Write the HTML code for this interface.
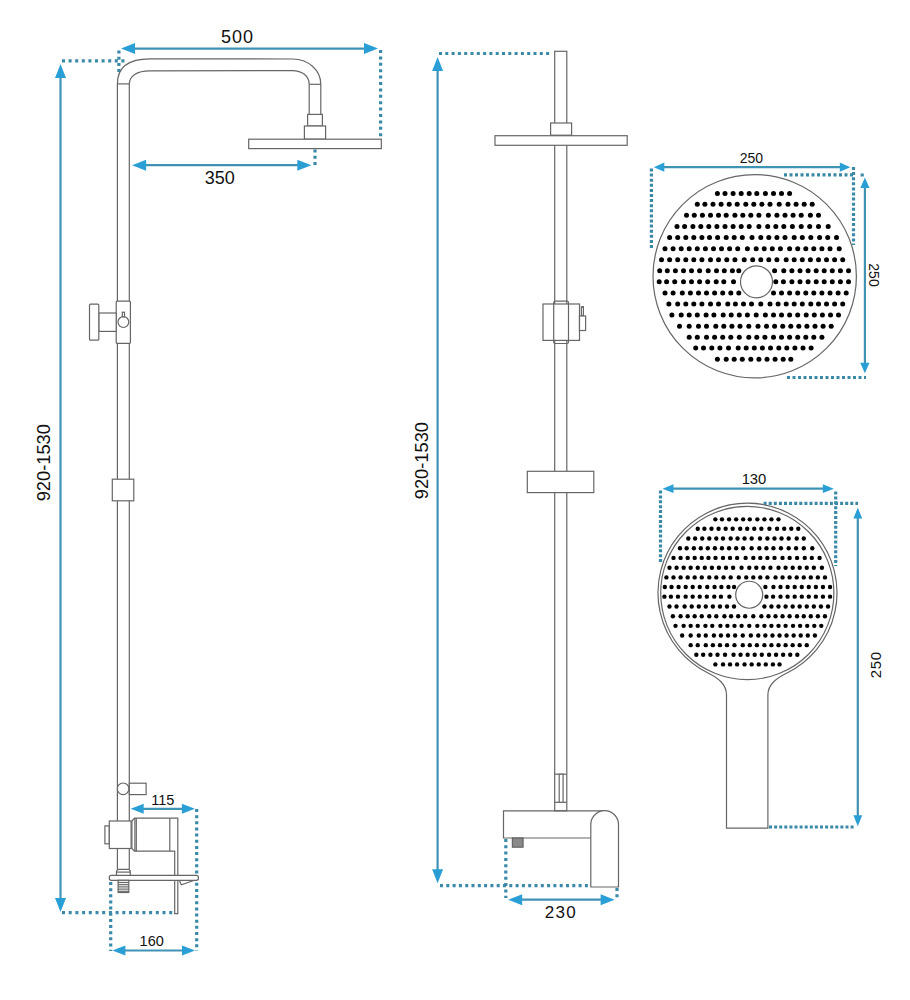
<!DOCTYPE html>
<html><head><meta charset="utf-8"><style>
html,body{margin:0;padding:0;background:#fff;width:910px;height:1000px;overflow:hidden}
svg{display:block}
.ln{fill:#fff;stroke:#666;stroke-width:1.2}
line.ln{fill:none}
.ar{stroke:#4193b5;stroke-width:2.2;fill:none}
.ah{fill:#2a9fd6;stroke:none}
.dt{stroke:#3a89a8;stroke-width:3.2;stroke-dasharray:3 3.3;fill:none}
text{font-family:"Liberation Sans",sans-serif;fill:#111;text-anchor:middle}
</style></head><body>
<svg width="910" height="1000" viewBox="0 0 910 1000">
<line class="dt" style="stroke-dasharray:3 3.60" x1="62.0" y1="60.9" x2="126.0" y2="60.9"/>
<line class="dt" style="stroke-dasharray:3 3.20" x1="118.9" y1="50.5" x2="118.9" y2="72.0"/>
<line class="dt" style="stroke-dasharray:3 3.40" x1="380.6" y1="50.0" x2="380.6" y2="137.5"/>
<line class="dt" style="stroke-dasharray:3 3.20" x1="315.0" y1="149.5" x2="315.0" y2="166.0"/>
<line class="dt" style="stroke-dasharray:3 3.15" x1="196.7" y1="809.0" x2="196.7" y2="951.0"/>
<line class="dt" style="stroke-dasharray:3 3.15" x1="110.7" y1="882.0" x2="110.7" y2="951.0"/>
<line class="dt" style="stroke-dasharray:3 3.70" x1="62.0" y1="912.7" x2="173.0" y2="912.7"/>
<line class="dt" x1="439.0" y1="53.5" x2="551.0" y2="53.5"/>
<line class="dt" x1="440.0" y1="885.7" x2="591.0" y2="885.7"/>
<line class="dt" x1="505.8" y1="839.0" x2="505.8" y2="898.0"/>
<line class="dt" x1="617.0" y1="888.0" x2="617.0" y2="898.0"/>
<line class="dt" style="stroke-dasharray:3 2.10" x1="651.4" y1="168.5" x2="651.4" y2="248.5"/>
<line class="dt" style="stroke-dasharray:3 2.10" x1="853.5" y1="167.0" x2="853.5" y2="245.0"/>
<line class="dt" style="stroke-dasharray:3 2.50" x1="784.0" y1="174.9" x2="854.0" y2="174.9"/>
<line class="dt" x1="862.2" y1="173.5" x2="862.2" y2="176.5"/>
<line class="dt" style="stroke-dasharray:3 2.50" x1="787.0" y1="377.5" x2="866.0" y2="377.5"/>
<line class="dt" style="stroke-dasharray:3 1.90" x1="660.5" y1="490.5" x2="660.5" y2="564.0"/>
<line class="dt" style="stroke-dasharray:3 1.90" x1="835.7" y1="491.5" x2="835.7" y2="566.0"/>
<line class="dt" style="stroke-dasharray:3 2.10" x1="763.6" y1="503.4" x2="858.0" y2="503.4"/>
<line class="dt" style="stroke-dasharray:3 2.10" x1="769.0" y1="827.0" x2="855.0" y2="827.0"/>
<line x1="133.0" y1="48.6" x2="366.0" y2="48.6" class="ar"/><path class="ah" d="M121.0,48.6 L135.0,43.1 L135.0,54.1 Z"/><path class="ah" d="M378.0,48.6 L364.0,43.1 L364.0,54.1 Z"/>
<line x1="144.1" y1="165.2" x2="299.3" y2="165.2" class="ar"/><path class="ah" d="M132.1,165.2 L146.1,159.7 L146.1,170.7 Z"/><path class="ah" d="M311.3,165.2 L297.3,159.7 L297.3,170.7 Z"/>
<line x1="60.5" y1="76.0" x2="60.5" y2="900.0" class="ar"/><path class="ah" d="M60.5,64.0 L55.0,78.0 L66.0,78.0 Z"/><path class="ah" d="M60.5,912.0 L55.0,898.0 L66.0,898.0 Z"/>
<line x1="141.7" y1="808.8" x2="183.9" y2="808.8" class="ar"/><path class="ah" d="M130.7,808.8 L143.7,803.8 L143.7,813.8 Z"/><path class="ah" d="M194.9,808.8 L181.9,803.8 L181.9,813.8 Z"/>
<line x1="123.4" y1="950.5" x2="184.0" y2="950.5" class="ar"/><path class="ah" d="M112.4,950.5 L125.4,945.5 L125.4,955.5 Z"/><path class="ah" d="M195.0,950.5 L182.0,945.5 L182.0,955.5 Z"/>
<line x1="437.6" y1="69.1" x2="437.6" y2="871.3" class="ar"/><path class="ah" d="M437.6,57.1 L432.1,71.1 L443.1,71.1 Z"/><path class="ah" d="M437.6,883.3 L432.1,869.3 L443.1,869.3 Z"/>
<line x1="520.2" y1="899.7" x2="602.6" y2="899.7" class="ar"/><path class="ah" d="M508.2,899.7 L522.2,894.2 L522.2,905.2 Z"/><path class="ah" d="M614.6,899.7 L600.6,894.2 L600.6,905.2 Z"/>
<line x1="662.3" y1="167.2" x2="841.8" y2="167.2" class="ar"/><path class="ah" d="M653.8,167.2 L664.3,162.6 L664.3,171.8 Z"/><path class="ah" d="M850.3,167.2 L839.8,162.6 L839.8,171.8 Z"/>
<line x1="864.9" y1="185.9" x2="864.9" y2="364.8" class="ar"/><path class="ah" d="M864.9,177.4 L860.3,187.9 L869.5,187.9 Z"/><path class="ah" d="M864.9,373.3 L860.3,362.8 L869.5,362.8 Z"/>
<line x1="671.5" y1="488.7" x2="824.8" y2="488.7" class="ar"/><path class="ah" d="M662.5,488.7 L673.5,484.3 L673.5,493.1 Z"/><path class="ah" d="M833.8,488.7 L822.8,484.3 L822.8,493.1 Z"/>
<line x1="857.8" y1="516.5" x2="857.8" y2="817.3" class="ar"/><path class="ah" d="M857.8,507.5 L853.4,518.5 L862.2,518.5 Z"/><path class="ah" d="M857.8,826.3 L853.4,815.3 L862.2,815.3 Z"/>
<path class="ln" fill="none" style="fill:none" d="M117.4,821 L117.4,83.9 C117.4,68 128,58.9 150,58.9 L292.4,59 C308,59 320.8,70 320.8,84.3 L320.8,114.4"/>
<path class="ln" style="fill:none" d="M129.3,821 L129.3,83.9 C129.3,76 137,70.8 149.6,70.8 L292.4,70.6 C302,70.6 309.2,76 309.2,84.3 L309.2,114.4"/>
<line class="ln" x1="117.4" y1="83.9" x2="129.3" y2="83.9"/>
<line class="ln" x1="309.2" y1="84.3" x2="320.8" y2="84.3"/>
<rect class="ln" x="307.6" y="114.4" width="14.8" height="11.6" rx="0.0" />
<rect class="ln" x="304.4" y="126.0" width="21.2" height="13.2" rx="0.0" />
<rect class="ln" x="248.7" y="139.2" width="132.6" height="9.4" rx="0.0" />
<rect class="ln" x="116.2" y="301.2" width="14.2" height="42.2" rx="1.0" />
<rect class="ln" x="98.8" y="313.0" width="17.4" height="18.4" rx="0.0" />
<rect class="ln" x="89.5" y="304.2" width="9.3" height="36.0" rx="1.0" />
<circle class="ln" cx="123.4" cy="322.1" r="5.4"/>
<rect class="ln" x="122.3" y="312.2" width="2.2" height="4.6" rx="0.0" />
<rect class="ln" x="112.3" y="479.2" width="21.5" height="21.6" rx="0.0" />
<rect class="ln" x="129.3" y="783.2" width="16.8" height="11.4" rx="0.0" />
<circle class="ln" cx="123.1" cy="788.8" r="5.8"/>
<line class="ln" x1="117.4" y1="848.5" x2="117.4" y2="869.3"/><line class="ln" x1="129.3" y1="848.5" x2="129.3" y2="869.3"/>
<rect class="ln" x="104.9" y="825.9" width="4.4" height="17.9" rx="0.0" />
<rect class="ln" x="109.3" y="821.0" width="21.8" height="27.5" rx="0.0" />
<path class="ln" d="M131.9,821 L134.5,818.2 L177.8,818.2 L177.8,913.6 L174.7,913.6 L174.7,851.2 L134.5,851.2 L131.9,848.5 Z"/>
<line class="ln" x1="134.9" y1="818.2" x2="134.9" y2="851.2"/><line class="ln" x1="136.3" y1="818.2" x2="136.3" y2="851.2"/><line class="ln" x1="169.8" y1="818.2" x2="169.8" y2="851.2"/>
<path class="ln" style="fill:none" d="M116.5,875.4 L116.5,871 L118,869.3 L128.8,869.3 L130.3,871 L130.3,875.4"/><line class="ln" x1="116.5" y1="872.1" x2="130.3" y2="872.1"/>
<rect class="ln" x="109.3" y="875.4" width="89.1" height="4.9" rx="2.0" />
<rect class="ln" x="118.1" y="880.3" width="10.7" height="12.2"/><line class="ln" x1="118.1" y1="882.5" x2="128.8" y2="882.5"/><line class="ln" x1="118.1" y1="884.7" x2="128.8" y2="884.7"/><line class="ln" x1="118.1" y1="886.9" x2="128.8" y2="886.9"/><line class="ln" x1="118.1" y1="889.1" x2="128.8" y2="889.1"/><line class="ln" x1="118.1" y1="891.3" x2="128.8" y2="891.3"/>
<path class="ln" style="fill:none" d="M179.3,880.3 L181.3,884.7 L194.5,880.3"/>
<rect class="ln" x="554.7" y="51.3" width="12.1" height="759.5" rx="0.0" />
<rect class="ln" x="550.6" y="123.0" width="21.0" height="12.2" rx="0.0" />
<rect class="ln" x="495.0" y="135.7" width="132.2" height="9.6" rx="0.0" />
<rect class="ln" x="543.0" y="304.0" width="36.5" height="36.4" rx="0.0" />
<rect class="ln" x="553.7" y="301.2" width="14.8" height="42.3" rx="1.5" style="fill:none"/>
<rect class="ln" x="581.4" y="306.7" width="2.0" height="9.3" rx="0.0" />
<rect class="ln" x="579.5" y="316.0" width="6.1" height="14.5" rx="0.0" />
<rect class="ln" x="527.3" y="471.3" width="66.5" height="21.3" rx="0.0" />
<line class="ln" x1="554.7" y1="774.2" x2="566.8" y2="774.2"/><line class="ln" x1="554.7" y1="802.3" x2="566.8" y2="802.3"/>
<rect class="ln" x="559.2" y="774.2" width="3.9" height="28.1" rx="0.0" />
<path class="ln" style="fill:none" d="M603,810.8 L503.5,810.8 L503.5,838 L590.8,838"/>
<path class="ln" d="M590.8,887 L590.8,824.5 A13.85,13.85 0 0 1 618.5,824.5 L618.5,887 Z"/>
<rect x="512.3" y="838" width="10.8" height="9.2" fill="#8a8a8a" stroke="#555" stroke-width="1"/>
<circle class="ln" cx="754.7" cy="276.25" r="101.7"/>
<g fill="#000"><circle cx="717.4" cy="193.4" r="2.5"/><circle cx="725.0" cy="193.4" r="2.5"/><circle cx="733.1" cy="193.4" r="2.5"/><circle cx="741.2" cy="193.4" r="2.5"/><circle cx="749.2" cy="193.4" r="2.5"/><circle cx="756.8" cy="193.4" r="2.5"/><circle cx="765.4" cy="193.4" r="2.5"/><circle cx="773.5" cy="193.4" r="2.5"/><circle cx="781.5" cy="193.4" r="2.5"/><circle cx="789.6" cy="193.4" r="2.5"/><circle cx="697.3" cy="204.2" r="2.5"/><circle cx="704.9" cy="204.2" r="2.5"/><circle cx="713.0" cy="204.2" r="2.5"/><circle cx="721.1" cy="204.2" r="2.5"/><circle cx="729.2" cy="204.2" r="2.5"/><circle cx="737.2" cy="204.2" r="2.5"/><circle cx="745.8" cy="204.2" r="2.5"/><circle cx="753.8" cy="204.2" r="2.5"/><circle cx="761.9" cy="204.2" r="2.5"/><circle cx="770.0" cy="204.2" r="2.5"/><circle cx="779.2" cy="204.2" r="2.5"/><circle cx="788.0" cy="204.2" r="2.5"/><circle cx="796.1" cy="204.2" r="2.5"/><circle cx="804.2" cy="204.2" r="2.5"/><circle cx="812.2" cy="204.2" r="2.5"/><circle cx="686.5" cy="215.3" r="2.5"/><circle cx="694.3" cy="215.3" r="2.5"/><circle cx="702.4" cy="215.3" r="2.5"/><circle cx="710.5" cy="215.3" r="2.5"/><circle cx="718.5" cy="215.3" r="2.5"/><circle cx="726.2" cy="215.3" r="2.5"/><circle cx="734.9" cy="215.3" r="2.5"/><circle cx="742.8" cy="215.3" r="2.5"/><circle cx="750.8" cy="215.3" r="2.5"/><circle cx="758.9" cy="215.3" r="2.5"/><circle cx="768.4" cy="215.3" r="2.5"/><circle cx="776.9" cy="215.3" r="2.5"/><circle cx="785.0" cy="215.3" r="2.5"/><circle cx="793.1" cy="215.3" r="2.5"/><circle cx="801.2" cy="215.3" r="2.5"/><circle cx="810.4" cy="215.3" r="2.5"/><circle cx="818.5" cy="215.3" r="2.5"/><circle cx="677.0" cy="226.4" r="2.5"/><circle cx="684.6" cy="226.4" r="2.5"/><circle cx="692.9" cy="226.4" r="2.5"/><circle cx="700.8" cy="226.4" r="2.5"/><circle cx="708.8" cy="226.4" r="2.5"/><circle cx="716.9" cy="226.4" r="2.5"/><circle cx="725.0" cy="226.4" r="2.5"/><circle cx="733.1" cy="226.4" r="2.5"/><circle cx="741.2" cy="226.4" r="2.5"/><circle cx="749.2" cy="226.4" r="2.5"/><circle cx="758.9" cy="226.4" r="2.5"/><circle cx="767.7" cy="226.4" r="2.5"/><circle cx="775.8" cy="226.4" r="2.5"/><circle cx="783.8" cy="226.4" r="2.5"/><circle cx="792.4" cy="226.4" r="2.5"/><circle cx="801.2" cy="226.4" r="2.5"/><circle cx="809.7" cy="226.4" r="2.5"/><circle cx="818.5" cy="226.4" r="2.5"/><circle cx="828.2" cy="226.4" r="2.5"/><circle cx="669.6" cy="237.5" r="2.5"/><circle cx="677.7" cy="237.5" r="2.5"/><circle cx="685.8" cy="237.5" r="2.5"/><circle cx="693.8" cy="237.5" r="2.5"/><circle cx="701.9" cy="237.5" r="2.5"/><circle cx="709.5" cy="237.5" r="2.5"/><circle cx="717.6" cy="237.5" r="2.5"/><circle cx="726.2" cy="237.5" r="2.5"/><circle cx="734.2" cy="237.5" r="2.5"/><circle cx="742.3" cy="237.5" r="2.5"/><circle cx="752.0" cy="237.5" r="2.5"/><circle cx="760.8" cy="237.5" r="2.5"/><circle cx="768.8" cy="237.5" r="2.5"/><circle cx="776.9" cy="237.5" r="2.5"/><circle cx="785.0" cy="237.5" r="2.5"/><circle cx="794.2" cy="237.5" r="2.5"/><circle cx="802.3" cy="237.5" r="2.5"/><circle cx="810.8" cy="237.5" r="2.5"/><circle cx="819.6" cy="237.5" r="2.5"/><circle cx="827.7" cy="237.5" r="2.5"/><circle cx="836.5" cy="237.5" r="2.5"/><circle cx="665.0" cy="248.7" r="2.5"/><circle cx="673.1" cy="248.7" r="2.5"/><circle cx="681.2" cy="248.7" r="2.5"/><circle cx="689.2" cy="248.7" r="2.5"/><circle cx="697.3" cy="248.7" r="2.5"/><circle cx="705.4" cy="248.7" r="2.5"/><circle cx="713.5" cy="248.7" r="2.5"/><circle cx="721.5" cy="248.7" r="2.5"/><circle cx="729.6" cy="248.7" r="2.5"/><circle cx="737.7" cy="248.7" r="2.5"/><circle cx="747.4" cy="248.7" r="2.5"/><circle cx="756.2" cy="248.7" r="2.5"/><circle cx="764.2" cy="248.7" r="2.5"/><circle cx="772.3" cy="248.7" r="2.5"/><circle cx="780.4" cy="248.7" r="2.5"/><circle cx="789.6" cy="248.7" r="2.5"/><circle cx="797.7" cy="248.7" r="2.5"/><circle cx="805.8" cy="248.7" r="2.5"/><circle cx="813.8" cy="248.7" r="2.5"/><circle cx="821.9" cy="248.7" r="2.5"/><circle cx="830.0" cy="248.7" r="2.5"/><circle cx="839.2" cy="248.7" r="2.5"/><circle cx="661.5" cy="259.8" r="2.5"/><circle cx="669.6" cy="259.8" r="2.5"/><circle cx="677.7" cy="259.8" r="2.5"/><circle cx="685.8" cy="259.8" r="2.5"/><circle cx="693.8" cy="259.8" r="2.5"/><circle cx="701.9" cy="259.8" r="2.5"/><circle cx="710.5" cy="259.8" r="2.5"/><circle cx="718.5" cy="259.8" r="2.5"/><circle cx="726.8" cy="259.8" r="2.5"/><circle cx="734.9" cy="259.8" r="2.5"/><circle cx="744.2" cy="259.8" r="2.5"/><circle cx="752.7" cy="259.8" r="2.5"/><circle cx="760.8" cy="259.8" r="2.5"/><circle cx="768.8" cy="259.8" r="2.5"/><circle cx="776.9" cy="259.8" r="2.5"/><circle cx="786.2" cy="259.8" r="2.5"/><circle cx="794.2" cy="259.8" r="2.5"/><circle cx="802.3" cy="259.8" r="2.5"/><circle cx="810.4" cy="259.8" r="2.5"/><circle cx="818.5" cy="259.8" r="2.5"/><circle cx="826.5" cy="259.8" r="2.5"/><circle cx="834.6" cy="259.8" r="2.5"/><circle cx="842.7" cy="259.8" r="2.5"/><circle cx="659.7" cy="270.8" r="2.5"/><circle cx="667.3" cy="270.8" r="2.5"/><circle cx="675.4" cy="270.8" r="2.5"/><circle cx="683.5" cy="270.8" r="2.5"/><circle cx="691.5" cy="270.8" r="2.5"/><circle cx="699.6" cy="270.8" r="2.5"/><circle cx="708.2" cy="270.8" r="2.5"/><circle cx="716.5" cy="270.8" r="2.5"/><circle cx="724.3" cy="270.8" r="2.5"/><circle cx="732.4" cy="270.8" r="2.5"/><circle cx="738.8" cy="270.8" r="2.5"/><circle cx="774.6" cy="270.8" r="2.5"/><circle cx="783.8" cy="270.8" r="2.5"/><circle cx="791.9" cy="270.8" r="2.5"/><circle cx="800.0" cy="270.8" r="2.5"/><circle cx="808.1" cy="270.8" r="2.5"/><circle cx="816.2" cy="270.8" r="2.5"/><circle cx="824.2" cy="270.8" r="2.5"/><circle cx="832.3" cy="270.8" r="2.5"/><circle cx="840.4" cy="270.8" r="2.5"/><circle cx="848.5" cy="270.8" r="2.5"/><circle cx="659.2" cy="281.8" r="2.5"/><circle cx="666.6" cy="281.8" r="2.5"/><circle cx="674.7" cy="281.8" r="2.5"/><circle cx="683.5" cy="281.8" r="2.5"/><circle cx="691.5" cy="281.8" r="2.5"/><circle cx="699.6" cy="281.8" r="2.5"/><circle cx="707.7" cy="281.8" r="2.5"/><circle cx="716.2" cy="281.8" r="2.5"/><circle cx="723.8" cy="281.8" r="2.5"/><circle cx="733.5" cy="281.8" r="2.5"/><circle cx="775.8" cy="281.8" r="2.5"/><circle cx="783.4" cy="281.8" r="2.5"/><circle cx="791.9" cy="281.8" r="2.5"/><circle cx="800.0" cy="281.8" r="2.5"/><circle cx="808.1" cy="281.8" r="2.5"/><circle cx="816.2" cy="281.8" r="2.5"/><circle cx="824.2" cy="281.8" r="2.5"/><circle cx="832.3" cy="281.8" r="2.5"/><circle cx="840.4" cy="281.8" r="2.5"/><circle cx="848.5" cy="281.8" r="2.5"/><circle cx="665.0" cy="293.0" r="2.5"/><circle cx="673.1" cy="293.0" r="2.5"/><circle cx="682.3" cy="293.0" r="2.5"/><circle cx="690.4" cy="293.0" r="2.5"/><circle cx="698.5" cy="293.0" r="2.5"/><circle cx="706.5" cy="293.0" r="2.5"/><circle cx="714.6" cy="293.0" r="2.5"/><circle cx="722.7" cy="293.0" r="2.5"/><circle cx="730.8" cy="293.0" r="2.5"/><circle cx="738.8" cy="293.0" r="2.5"/><circle cx="773.5" cy="293.0" r="2.5"/><circle cx="781.5" cy="293.0" r="2.5"/><circle cx="789.6" cy="293.0" r="2.5"/><circle cx="797.7" cy="293.0" r="2.5"/><circle cx="805.8" cy="293.0" r="2.5"/><circle cx="813.8" cy="293.0" r="2.5"/><circle cx="821.9" cy="293.0" r="2.5"/><circle cx="830.0" cy="293.0" r="2.5"/><circle cx="838.1" cy="293.0" r="2.5"/><circle cx="846.2" cy="293.0" r="2.5"/><circle cx="668.9" cy="304.1" r="2.5"/><circle cx="677.7" cy="304.1" r="2.5"/><circle cx="685.8" cy="304.1" r="2.5"/><circle cx="693.8" cy="304.1" r="2.5"/><circle cx="701.9" cy="304.1" r="2.5"/><circle cx="710.5" cy="304.1" r="2.5"/><circle cx="718.5" cy="304.1" r="2.5"/><circle cx="727.8" cy="304.1" r="2.5"/><circle cx="735.4" cy="304.1" r="2.5"/><circle cx="743.5" cy="304.1" r="2.5"/><circle cx="751.5" cy="304.1" r="2.5"/><circle cx="760.8" cy="304.1" r="2.5"/><circle cx="770.0" cy="304.1" r="2.5"/><circle cx="778.1" cy="304.1" r="2.5"/><circle cx="786.2" cy="304.1" r="2.5"/><circle cx="794.2" cy="304.1" r="2.5"/><circle cx="802.3" cy="304.1" r="2.5"/><circle cx="810.8" cy="304.1" r="2.5"/><circle cx="818.5" cy="304.1" r="2.5"/><circle cx="826.5" cy="304.1" r="2.5"/><circle cx="834.6" cy="304.1" r="2.5"/><circle cx="842.7" cy="304.1" r="2.5"/><circle cx="671.9" cy="315.1" r="2.5"/><circle cx="681.2" cy="315.1" r="2.5"/><circle cx="689.2" cy="315.1" r="2.5"/><circle cx="697.3" cy="315.1" r="2.5"/><circle cx="706.1" cy="315.1" r="2.5"/><circle cx="713.9" cy="315.1" r="2.5"/><circle cx="723.2" cy="315.1" r="2.5"/><circle cx="731.2" cy="315.1" r="2.5"/><circle cx="739.3" cy="315.1" r="2.5"/><circle cx="747.4" cy="315.1" r="2.5"/><circle cx="756.2" cy="315.1" r="2.5"/><circle cx="765.4" cy="315.1" r="2.5"/><circle cx="773.5" cy="315.1" r="2.5"/><circle cx="781.5" cy="315.1" r="2.5"/><circle cx="789.6" cy="315.1" r="2.5"/><circle cx="797.7" cy="315.1" r="2.5"/><circle cx="806.2" cy="315.1" r="2.5"/><circle cx="814.3" cy="315.1" r="2.5"/><circle cx="822.4" cy="315.1" r="2.5"/><circle cx="830.5" cy="315.1" r="2.5"/><circle cx="838.5" cy="315.1" r="2.5"/><circle cx="679.5" cy="326.2" r="2.5"/><circle cx="689.2" cy="326.2" r="2.5"/><circle cx="698.5" cy="326.2" r="2.5"/><circle cx="706.5" cy="326.2" r="2.5"/><circle cx="715.8" cy="326.2" r="2.5"/><circle cx="723.8" cy="326.2" r="2.5"/><circle cx="731.9" cy="326.2" r="2.5"/><circle cx="740.0" cy="326.2" r="2.5"/><circle cx="748.8" cy="326.2" r="2.5"/><circle cx="758.0" cy="326.2" r="2.5"/><circle cx="766.5" cy="326.2" r="2.5"/><circle cx="774.6" cy="326.2" r="2.5"/><circle cx="782.7" cy="326.2" r="2.5"/><circle cx="790.8" cy="326.2" r="2.5"/><circle cx="798.8" cy="326.2" r="2.5"/><circle cx="806.9" cy="326.2" r="2.5"/><circle cx="815.0" cy="326.2" r="2.5"/><circle cx="823.1" cy="326.2" r="2.5"/><circle cx="831.2" cy="326.2" r="2.5"/><circle cx="689.2" cy="337.2" r="2.5"/><circle cx="697.3" cy="337.2" r="2.5"/><circle cx="706.5" cy="337.2" r="2.5"/><circle cx="714.6" cy="337.2" r="2.5"/><circle cx="722.7" cy="337.2" r="2.5"/><circle cx="730.8" cy="337.2" r="2.5"/><circle cx="739.3" cy="337.2" r="2.5"/><circle cx="748.8" cy="337.2" r="2.5"/><circle cx="756.8" cy="337.2" r="2.5"/><circle cx="764.9" cy="337.2" r="2.5"/><circle cx="773.5" cy="337.2" r="2.5"/><circle cx="781.5" cy="337.2" r="2.5"/><circle cx="789.6" cy="337.2" r="2.5"/><circle cx="797.7" cy="337.2" r="2.5"/><circle cx="805.8" cy="337.2" r="2.5"/><circle cx="813.8" cy="337.2" r="2.5"/><circle cx="821.9" cy="337.2" r="2.5"/><circle cx="695.7" cy="348.1" r="2.5"/><circle cx="703.5" cy="348.1" r="2.5"/><circle cx="711.8" cy="348.1" r="2.5"/><circle cx="719.9" cy="348.1" r="2.5"/><circle cx="728.5" cy="348.1" r="2.5"/><circle cx="738.2" cy="348.1" r="2.5"/><circle cx="746.2" cy="348.1" r="2.5"/><circle cx="754.3" cy="348.1" r="2.5"/><circle cx="762.4" cy="348.1" r="2.5"/><circle cx="770.5" cy="348.1" r="2.5"/><circle cx="778.8" cy="348.1" r="2.5"/><circle cx="786.8" cy="348.1" r="2.5"/><circle cx="794.9" cy="348.1" r="2.5"/><circle cx="803.0" cy="348.1" r="2.5"/><circle cx="811.1" cy="348.1" r="2.5"/><circle cx="717.4" cy="359.2" r="2.5"/><circle cx="726.2" cy="359.2" r="2.5"/><circle cx="734.2" cy="359.2" r="2.5"/><circle cx="742.3" cy="359.2" r="2.5"/><circle cx="750.8" cy="359.2" r="2.5"/><circle cx="758.9" cy="359.2" r="2.5"/><circle cx="767.0" cy="359.2" r="2.5"/><circle cx="775.1" cy="359.2" r="2.5"/><circle cx="783.2" cy="359.2" r="2.5"/><circle cx="790.8" cy="359.2" r="2.5"/></g>
<circle class="ln" cx="756.5" cy="281.85" r="16"/>
<path class="ln" d="M726.5,828.1 L726.5,695 C726.5,684 718,678 708,673 A89.5,89.5 0 1 1 787,673 C777,678 767.9,684 767.9,695 L767.9,828.1 Z"/>
<circle class="ln" cx="747.3" cy="593" r="86.6"/>
<g fill="#000" transform="translate(87.6,350.1) scale(0.875)"><circle cx="717.4" cy="193.4" r="2.5"/><circle cx="725.0" cy="193.4" r="2.5"/><circle cx="733.1" cy="193.4" r="2.5"/><circle cx="741.2" cy="193.4" r="2.5"/><circle cx="749.2" cy="193.4" r="2.5"/><circle cx="756.8" cy="193.4" r="2.5"/><circle cx="765.4" cy="193.4" r="2.5"/><circle cx="773.5" cy="193.4" r="2.5"/><circle cx="781.5" cy="193.4" r="2.5"/><circle cx="789.6" cy="193.4" r="2.5"/><circle cx="697.3" cy="204.2" r="2.5"/><circle cx="704.9" cy="204.2" r="2.5"/><circle cx="713.0" cy="204.2" r="2.5"/><circle cx="721.1" cy="204.2" r="2.5"/><circle cx="729.2" cy="204.2" r="2.5"/><circle cx="737.2" cy="204.2" r="2.5"/><circle cx="745.8" cy="204.2" r="2.5"/><circle cx="753.8" cy="204.2" r="2.5"/><circle cx="761.9" cy="204.2" r="2.5"/><circle cx="770.0" cy="204.2" r="2.5"/><circle cx="779.2" cy="204.2" r="2.5"/><circle cx="788.0" cy="204.2" r="2.5"/><circle cx="796.1" cy="204.2" r="2.5"/><circle cx="804.2" cy="204.2" r="2.5"/><circle cx="812.2" cy="204.2" r="2.5"/><circle cx="686.5" cy="215.3" r="2.5"/><circle cx="694.3" cy="215.3" r="2.5"/><circle cx="702.4" cy="215.3" r="2.5"/><circle cx="710.5" cy="215.3" r="2.5"/><circle cx="718.5" cy="215.3" r="2.5"/><circle cx="726.2" cy="215.3" r="2.5"/><circle cx="734.9" cy="215.3" r="2.5"/><circle cx="742.8" cy="215.3" r="2.5"/><circle cx="750.8" cy="215.3" r="2.5"/><circle cx="758.9" cy="215.3" r="2.5"/><circle cx="768.4" cy="215.3" r="2.5"/><circle cx="776.9" cy="215.3" r="2.5"/><circle cx="785.0" cy="215.3" r="2.5"/><circle cx="793.1" cy="215.3" r="2.5"/><circle cx="801.2" cy="215.3" r="2.5"/><circle cx="810.4" cy="215.3" r="2.5"/><circle cx="818.5" cy="215.3" r="2.5"/><circle cx="677.0" cy="226.4" r="2.5"/><circle cx="684.6" cy="226.4" r="2.5"/><circle cx="692.9" cy="226.4" r="2.5"/><circle cx="700.8" cy="226.4" r="2.5"/><circle cx="708.8" cy="226.4" r="2.5"/><circle cx="716.9" cy="226.4" r="2.5"/><circle cx="725.0" cy="226.4" r="2.5"/><circle cx="733.1" cy="226.4" r="2.5"/><circle cx="741.2" cy="226.4" r="2.5"/><circle cx="749.2" cy="226.4" r="2.5"/><circle cx="758.9" cy="226.4" r="2.5"/><circle cx="767.7" cy="226.4" r="2.5"/><circle cx="775.8" cy="226.4" r="2.5"/><circle cx="783.8" cy="226.4" r="2.5"/><circle cx="792.4" cy="226.4" r="2.5"/><circle cx="801.2" cy="226.4" r="2.5"/><circle cx="809.7" cy="226.4" r="2.5"/><circle cx="818.5" cy="226.4" r="2.5"/><circle cx="828.2" cy="226.4" r="2.5"/><circle cx="669.6" cy="237.5" r="2.5"/><circle cx="677.7" cy="237.5" r="2.5"/><circle cx="685.8" cy="237.5" r="2.5"/><circle cx="693.8" cy="237.5" r="2.5"/><circle cx="701.9" cy="237.5" r="2.5"/><circle cx="709.5" cy="237.5" r="2.5"/><circle cx="717.6" cy="237.5" r="2.5"/><circle cx="726.2" cy="237.5" r="2.5"/><circle cx="734.2" cy="237.5" r="2.5"/><circle cx="742.3" cy="237.5" r="2.5"/><circle cx="752.0" cy="237.5" r="2.5"/><circle cx="760.8" cy="237.5" r="2.5"/><circle cx="768.8" cy="237.5" r="2.5"/><circle cx="776.9" cy="237.5" r="2.5"/><circle cx="785.0" cy="237.5" r="2.5"/><circle cx="794.2" cy="237.5" r="2.5"/><circle cx="802.3" cy="237.5" r="2.5"/><circle cx="810.8" cy="237.5" r="2.5"/><circle cx="819.6" cy="237.5" r="2.5"/><circle cx="827.7" cy="237.5" r="2.5"/><circle cx="836.5" cy="237.5" r="2.5"/><circle cx="665.0" cy="248.7" r="2.5"/><circle cx="673.1" cy="248.7" r="2.5"/><circle cx="681.2" cy="248.7" r="2.5"/><circle cx="689.2" cy="248.7" r="2.5"/><circle cx="697.3" cy="248.7" r="2.5"/><circle cx="705.4" cy="248.7" r="2.5"/><circle cx="713.5" cy="248.7" r="2.5"/><circle cx="721.5" cy="248.7" r="2.5"/><circle cx="729.6" cy="248.7" r="2.5"/><circle cx="737.7" cy="248.7" r="2.5"/><circle cx="747.4" cy="248.7" r="2.5"/><circle cx="756.2" cy="248.7" r="2.5"/><circle cx="764.2" cy="248.7" r="2.5"/><circle cx="772.3" cy="248.7" r="2.5"/><circle cx="780.4" cy="248.7" r="2.5"/><circle cx="789.6" cy="248.7" r="2.5"/><circle cx="797.7" cy="248.7" r="2.5"/><circle cx="805.8" cy="248.7" r="2.5"/><circle cx="813.8" cy="248.7" r="2.5"/><circle cx="821.9" cy="248.7" r="2.5"/><circle cx="830.0" cy="248.7" r="2.5"/><circle cx="839.2" cy="248.7" r="2.5"/><circle cx="661.5" cy="259.8" r="2.5"/><circle cx="669.6" cy="259.8" r="2.5"/><circle cx="677.7" cy="259.8" r="2.5"/><circle cx="685.8" cy="259.8" r="2.5"/><circle cx="693.8" cy="259.8" r="2.5"/><circle cx="701.9" cy="259.8" r="2.5"/><circle cx="710.5" cy="259.8" r="2.5"/><circle cx="718.5" cy="259.8" r="2.5"/><circle cx="726.8" cy="259.8" r="2.5"/><circle cx="734.9" cy="259.8" r="2.5"/><circle cx="744.2" cy="259.8" r="2.5"/><circle cx="752.7" cy="259.8" r="2.5"/><circle cx="760.8" cy="259.8" r="2.5"/><circle cx="768.8" cy="259.8" r="2.5"/><circle cx="776.9" cy="259.8" r="2.5"/><circle cx="786.2" cy="259.8" r="2.5"/><circle cx="794.2" cy="259.8" r="2.5"/><circle cx="802.3" cy="259.8" r="2.5"/><circle cx="810.4" cy="259.8" r="2.5"/><circle cx="818.5" cy="259.8" r="2.5"/><circle cx="826.5" cy="259.8" r="2.5"/><circle cx="834.6" cy="259.8" r="2.5"/><circle cx="842.7" cy="259.8" r="2.5"/><circle cx="659.7" cy="270.8" r="2.5"/><circle cx="667.3" cy="270.8" r="2.5"/><circle cx="675.4" cy="270.8" r="2.5"/><circle cx="683.5" cy="270.8" r="2.5"/><circle cx="691.5" cy="270.8" r="2.5"/><circle cx="699.6" cy="270.8" r="2.5"/><circle cx="708.2" cy="270.8" r="2.5"/><circle cx="716.5" cy="270.8" r="2.5"/><circle cx="724.3" cy="270.8" r="2.5"/><circle cx="732.4" cy="270.8" r="2.5"/><circle cx="738.8" cy="270.8" r="2.5"/><circle cx="774.6" cy="270.8" r="2.5"/><circle cx="783.8" cy="270.8" r="2.5"/><circle cx="791.9" cy="270.8" r="2.5"/><circle cx="800.0" cy="270.8" r="2.5"/><circle cx="808.1" cy="270.8" r="2.5"/><circle cx="816.2" cy="270.8" r="2.5"/><circle cx="824.2" cy="270.8" r="2.5"/><circle cx="832.3" cy="270.8" r="2.5"/><circle cx="840.4" cy="270.8" r="2.5"/><circle cx="848.5" cy="270.8" r="2.5"/><circle cx="659.2" cy="281.8" r="2.5"/><circle cx="666.6" cy="281.8" r="2.5"/><circle cx="674.7" cy="281.8" r="2.5"/><circle cx="683.5" cy="281.8" r="2.5"/><circle cx="691.5" cy="281.8" r="2.5"/><circle cx="699.6" cy="281.8" r="2.5"/><circle cx="707.7" cy="281.8" r="2.5"/><circle cx="716.2" cy="281.8" r="2.5"/><circle cx="723.8" cy="281.8" r="2.5"/><circle cx="733.5" cy="281.8" r="2.5"/><circle cx="775.8" cy="281.8" r="2.5"/><circle cx="783.4" cy="281.8" r="2.5"/><circle cx="791.9" cy="281.8" r="2.5"/><circle cx="800.0" cy="281.8" r="2.5"/><circle cx="808.1" cy="281.8" r="2.5"/><circle cx="816.2" cy="281.8" r="2.5"/><circle cx="824.2" cy="281.8" r="2.5"/><circle cx="832.3" cy="281.8" r="2.5"/><circle cx="840.4" cy="281.8" r="2.5"/><circle cx="848.5" cy="281.8" r="2.5"/><circle cx="665.0" cy="293.0" r="2.5"/><circle cx="673.1" cy="293.0" r="2.5"/><circle cx="682.3" cy="293.0" r="2.5"/><circle cx="690.4" cy="293.0" r="2.5"/><circle cx="698.5" cy="293.0" r="2.5"/><circle cx="706.5" cy="293.0" r="2.5"/><circle cx="714.6" cy="293.0" r="2.5"/><circle cx="722.7" cy="293.0" r="2.5"/><circle cx="730.8" cy="293.0" r="2.5"/><circle cx="738.8" cy="293.0" r="2.5"/><circle cx="773.5" cy="293.0" r="2.5"/><circle cx="781.5" cy="293.0" r="2.5"/><circle cx="789.6" cy="293.0" r="2.5"/><circle cx="797.7" cy="293.0" r="2.5"/><circle cx="805.8" cy="293.0" r="2.5"/><circle cx="813.8" cy="293.0" r="2.5"/><circle cx="821.9" cy="293.0" r="2.5"/><circle cx="830.0" cy="293.0" r="2.5"/><circle cx="838.1" cy="293.0" r="2.5"/><circle cx="846.2" cy="293.0" r="2.5"/><circle cx="668.9" cy="304.1" r="2.5"/><circle cx="677.7" cy="304.1" r="2.5"/><circle cx="685.8" cy="304.1" r="2.5"/><circle cx="693.8" cy="304.1" r="2.5"/><circle cx="701.9" cy="304.1" r="2.5"/><circle cx="710.5" cy="304.1" r="2.5"/><circle cx="718.5" cy="304.1" r="2.5"/><circle cx="727.8" cy="304.1" r="2.5"/><circle cx="735.4" cy="304.1" r="2.5"/><circle cx="743.5" cy="304.1" r="2.5"/><circle cx="751.5" cy="304.1" r="2.5"/><circle cx="760.8" cy="304.1" r="2.5"/><circle cx="770.0" cy="304.1" r="2.5"/><circle cx="778.1" cy="304.1" r="2.5"/><circle cx="786.2" cy="304.1" r="2.5"/><circle cx="794.2" cy="304.1" r="2.5"/><circle cx="802.3" cy="304.1" r="2.5"/><circle cx="810.8" cy="304.1" r="2.5"/><circle cx="818.5" cy="304.1" r="2.5"/><circle cx="826.5" cy="304.1" r="2.5"/><circle cx="834.6" cy="304.1" r="2.5"/><circle cx="842.7" cy="304.1" r="2.5"/><circle cx="671.9" cy="315.1" r="2.5"/><circle cx="681.2" cy="315.1" r="2.5"/><circle cx="689.2" cy="315.1" r="2.5"/><circle cx="697.3" cy="315.1" r="2.5"/><circle cx="706.1" cy="315.1" r="2.5"/><circle cx="713.9" cy="315.1" r="2.5"/><circle cx="723.2" cy="315.1" r="2.5"/><circle cx="731.2" cy="315.1" r="2.5"/><circle cx="739.3" cy="315.1" r="2.5"/><circle cx="747.4" cy="315.1" r="2.5"/><circle cx="756.2" cy="315.1" r="2.5"/><circle cx="765.4" cy="315.1" r="2.5"/><circle cx="773.5" cy="315.1" r="2.5"/><circle cx="781.5" cy="315.1" r="2.5"/><circle cx="789.6" cy="315.1" r="2.5"/><circle cx="797.7" cy="315.1" r="2.5"/><circle cx="806.2" cy="315.1" r="2.5"/><circle cx="814.3" cy="315.1" r="2.5"/><circle cx="822.4" cy="315.1" r="2.5"/><circle cx="830.5" cy="315.1" r="2.5"/><circle cx="838.5" cy="315.1" r="2.5"/><circle cx="679.5" cy="326.2" r="2.5"/><circle cx="689.2" cy="326.2" r="2.5"/><circle cx="698.5" cy="326.2" r="2.5"/><circle cx="706.5" cy="326.2" r="2.5"/><circle cx="715.8" cy="326.2" r="2.5"/><circle cx="723.8" cy="326.2" r="2.5"/><circle cx="731.9" cy="326.2" r="2.5"/><circle cx="740.0" cy="326.2" r="2.5"/><circle cx="748.8" cy="326.2" r="2.5"/><circle cx="758.0" cy="326.2" r="2.5"/><circle cx="766.5" cy="326.2" r="2.5"/><circle cx="774.6" cy="326.2" r="2.5"/><circle cx="782.7" cy="326.2" r="2.5"/><circle cx="790.8" cy="326.2" r="2.5"/><circle cx="798.8" cy="326.2" r="2.5"/><circle cx="806.9" cy="326.2" r="2.5"/><circle cx="815.0" cy="326.2" r="2.5"/><circle cx="823.1" cy="326.2" r="2.5"/><circle cx="831.2" cy="326.2" r="2.5"/><circle cx="689.2" cy="337.2" r="2.5"/><circle cx="697.3" cy="337.2" r="2.5"/><circle cx="706.5" cy="337.2" r="2.5"/><circle cx="714.6" cy="337.2" r="2.5"/><circle cx="722.7" cy="337.2" r="2.5"/><circle cx="730.8" cy="337.2" r="2.5"/><circle cx="739.3" cy="337.2" r="2.5"/><circle cx="748.8" cy="337.2" r="2.5"/><circle cx="756.8" cy="337.2" r="2.5"/><circle cx="764.9" cy="337.2" r="2.5"/><circle cx="773.5" cy="337.2" r="2.5"/><circle cx="781.5" cy="337.2" r="2.5"/><circle cx="789.6" cy="337.2" r="2.5"/><circle cx="797.7" cy="337.2" r="2.5"/><circle cx="805.8" cy="337.2" r="2.5"/><circle cx="813.8" cy="337.2" r="2.5"/><circle cx="821.9" cy="337.2" r="2.5"/><circle cx="695.7" cy="348.1" r="2.5"/><circle cx="703.5" cy="348.1" r="2.5"/><circle cx="711.8" cy="348.1" r="2.5"/><circle cx="719.9" cy="348.1" r="2.5"/><circle cx="728.5" cy="348.1" r="2.5"/><circle cx="738.2" cy="348.1" r="2.5"/><circle cx="746.2" cy="348.1" r="2.5"/><circle cx="754.3" cy="348.1" r="2.5"/><circle cx="762.4" cy="348.1" r="2.5"/><circle cx="770.5" cy="348.1" r="2.5"/><circle cx="778.8" cy="348.1" r="2.5"/><circle cx="786.8" cy="348.1" r="2.5"/><circle cx="794.9" cy="348.1" r="2.5"/><circle cx="803.0" cy="348.1" r="2.5"/><circle cx="811.1" cy="348.1" r="2.5"/><circle cx="717.4" cy="359.2" r="2.5"/><circle cx="726.2" cy="359.2" r="2.5"/><circle cx="734.2" cy="359.2" r="2.5"/><circle cx="742.3" cy="359.2" r="2.5"/><circle cx="750.8" cy="359.2" r="2.5"/><circle cx="758.9" cy="359.2" r="2.5"/><circle cx="767.0" cy="359.2" r="2.5"/><circle cx="775.1" cy="359.2" r="2.5"/><circle cx="783.2" cy="359.2" r="2.5"/><circle cx="790.8" cy="359.2" r="2.5"/></g>
<circle class="ln" cx="749.2" cy="594.75" r="13.5"/>
<text x="237.6" y="43" font-size="18" letter-spacing="1">500</text>
<text x="219.7" y="183.5" font-size="18">350</text>
<text x="162.8" y="805.3" font-size="14.5">115</text>
<text x="151.7" y="945.8" font-size="14.5">160</text>
<text x="560.8" y="918.4" font-size="17" letter-spacing="1.3">230</text>
<text x="751.4" y="162.9" font-size="14">250</text>
<text x="754" y="484" font-size="14.8">130</text>
<text transform="translate(50.1,462.7) rotate(-90)" font-size="18.3">920-1530</text>
<text transform="translate(427.6,460.6) rotate(-90)" font-size="18.3">920-1530</text>
<text transform="translate(869,275) rotate(90)" font-size="14">250</text>
<text transform="translate(881.3,664.8) rotate(-90)" font-size="15" letter-spacing="0.6">250</text>
</svg>
</body></html>
